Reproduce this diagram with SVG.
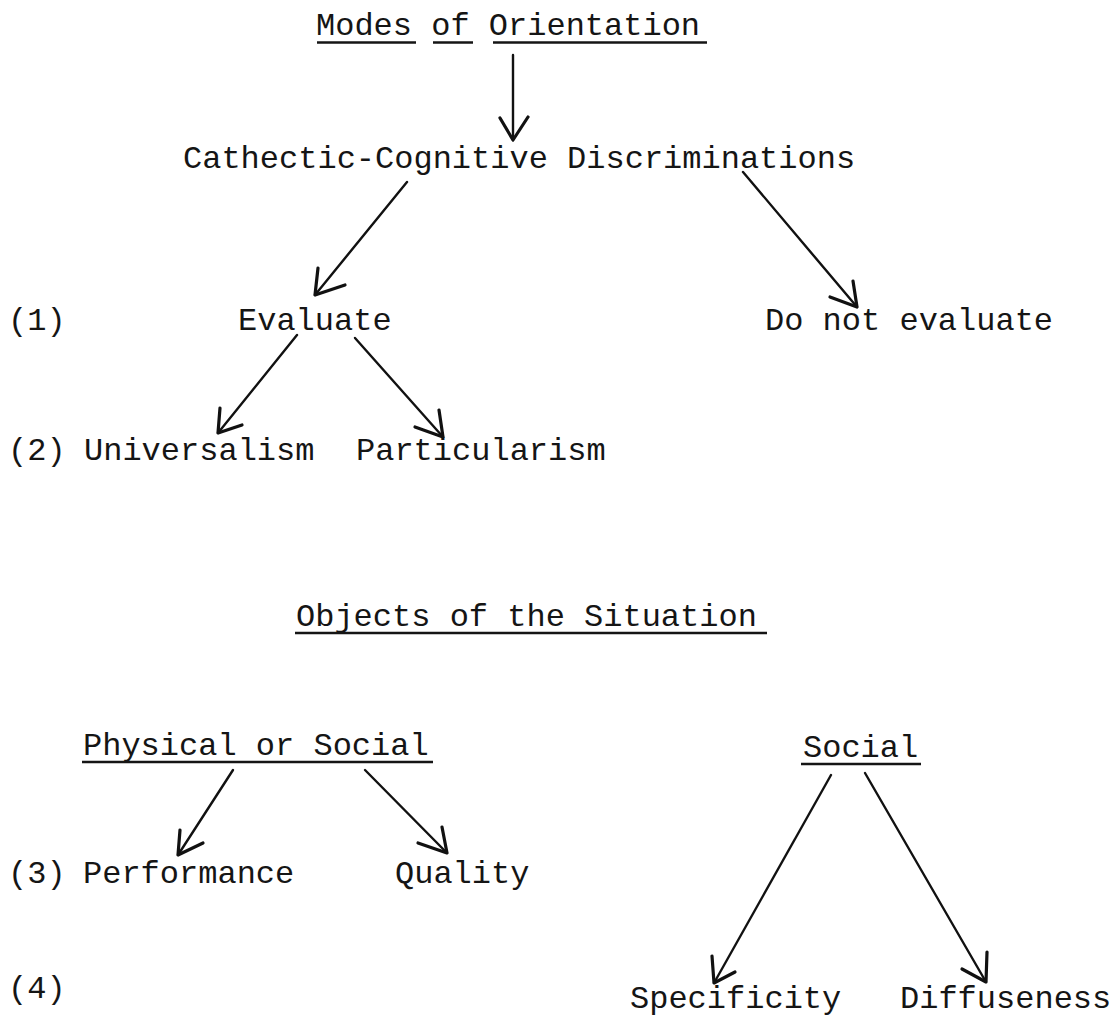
<svg xmlns="http://www.w3.org/2000/svg" width="1119" height="1019" viewBox="0 0 1119 1019">
<style>
text{font-family:"Liberation Mono","Courier New",monospace;font-size:32px;fill:#151515}
.ul{stroke:#151515;stroke-width:2.4;fill:none}
.ln{stroke:#111;stroke-width:2.4;fill:none;stroke-linecap:round}
.hd{stroke:#111;stroke-width:3.2;fill:none;stroke-linecap:round;stroke-linejoin:round}
</style>
<rect width="1119" height="1019" fill="#fff"/>
<g id="modes"><text x="316" y="35">Modes of Orientation</text>
<line class="ul" x1="317" y1="42.5" x2="416" y2="42.5"/><line class="ul" x1="433" y1="42.5" x2="473" y2="42.5"/><line class="ul" x1="493" y1="42.5" x2="707" y2="42.5"/></g>
<g id="cathectic"><text x="183" y="168">Cathectic-Cognitive Discriminations</text></g>
<g id="label1"><text x="8" y="330">(1)</text></g>
<g id="evaluate"><text x="238" y="330">Evaluate</text></g>
<g id="donot"><text x="765" y="330">Do not evaluate</text></g>
<g id="label2"><text x="8" y="460">(2)</text></g>
<g id="universalism"><text x="84" y="460">Universalism</text></g>
<g id="particularism"><text x="356" y="460">Particularism</text></g>
<g id="objects"><text x="296" y="626">Objects of the Situation</text>
<line class="ul" x1="295" y1="633" x2="767" y2="633"/></g>
<g id="physical"><text x="83" y="755">Physical or Social</text>
<line class="ul" x1="82" y1="762" x2="433" y2="762"/></g>
<g id="label3"><text x="8" y="883">(3)</text></g>
<g id="performance"><text x="83" y="883">Performance</text></g>
<g id="quality"><text x="395" y="883">Quality</text></g>
<g id="social"><text x="803" y="757">Social</text>
<line class="ul" x1="801" y1="764" x2="921" y2="764"/></g>
<g id="label4"><text x="8" y="998">(4)</text></g>
<g id="specificity"><text x="630" y="1008">Specificity</text></g>
<g id="diffuseness"><text x="900" y="1008">Diffuseness</text></g>
<g id="connectors">
<line class="ln" x1="513" y1="55" x2="513" y2="140"/><polyline class="hd" points="500,118 513,140 528,117"/>
<line class="ln" x1="407" y1="182" x2="315" y2="295"/><polyline class="hd" points="318,268 315,295 345,285"/>
<line class="ln" x1="743" y1="172" x2="857" y2="307"/><polyline class="hd" points="830,297 857,307 853,281"/>
<line class="ln" x1="297" y1="335" x2="218" y2="433"/><polyline class="hd" points="220,408 218,433 242,425"/>
<line class="ln" x1="355" y1="338" x2="443" y2="437"/><polyline class="hd" points="439,410 443,437 415,427"/>
<line class="ln" x1="233" y1="770" x2="178" y2="855"/><polyline class="hd" points="180,830 178,855 203,843"/>
<line class="ln" x1="365" y1="770" x2="447" y2="853"/><polyline class="hd" points="442,827 447,853 418,843"/>
<line class="ln" x1="831" y1="775" x2="714" y2="983"/><polyline class="hd" points="712,956 714,983 735,972"/>
<line class="ln" x1="865" y1="773" x2="986" y2="982"/><polyline class="hd" points="987,952 986,982 962,969"/>
</g>
</svg>
